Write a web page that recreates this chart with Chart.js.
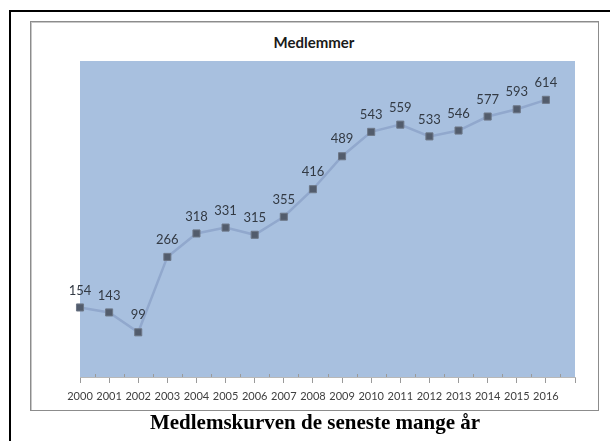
<!DOCTYPE html>
<html>
<head>
<meta charset="utf-8">
<script src="https://cdn.jsdelivr.net/npm/chart.js@4.4.0/dist/chart.umd.min.js"></script>
<style>
  html, body { margin: 0; padding: 0; background: #fff; overflow: hidden; }
  #frame { position: absolute; left: 9px; top: 10px; width: 700px; height: 500px; border: 2px solid #000; }
  #box { position: absolute; left: 30px; top: 21px; width: 567px; height: 388px;
         border: 1px solid #8c8c8c; box-shadow: inset 1px 1px 0 #c8c8c8; }
  #title { position: absolute; left: 214px; width: 200px; top: 33px; text-align: center;
           font: bold 15px Lato, sans-serif; color: #1a1a1a; }
  #caption { position: absolute; left: 65px; width: 500px; top: 410px; text-align: center;
             font: bold 21px "Liberation Serif", "Times New Roman", serif; color: #000; }
  #c { position: absolute; left: 0; top: 0; }
</style>
</head>
<body>
<div id="frame"></div>
<div id="box"></div>
<div id="title">Medlemmer</div>
<canvas id="c" width="610" height="441"></canvas>
<div id="caption">Medlemskurven de seneste mange år</div>
<script>
// data
var years = ["2000", "2001", "2002", "2003", "2004", "2005", "2006", "2007", "2008",
             "2009", "2010", "2011", "2012", "2013", "2014", "2015", "2016"];
var members = [154, 143, 99, 266, 318, 331, 315, 355, 416, 489, 543, 559, 533, 546, 577, 593, 614];

// plot background
var plotBg = {
    id: "plotBg",
    beforeDraw: function (chart) {
        var a = chart.chartArea, ctx = chart.ctx;
        ctx.save();
        ctx.fillStyle = "rgb(168, 192, 223)";
        ctx.fillRect(a.left, a.top, a.right - a.left, a.bottom - a.top);
        ctx.restore();
    }
};

// small ticks between the years
var minorTicks = {
    id: "minorTicks",
    afterDraw: function (chart) {
        var x = chart.scales.x, ctx = chart.ctx, b = chart.chartArea.bottom;
        ctx.save();
        ctx.strokeStyle = "#9a9a9a";
        ctx.lineWidth = 1;
        for (var i = 0; i < years.length; i++) {
            var px = Math.round((x.getPixelForValue(i) + x.getPixelForValue(i + 1)) / 2) + 0.5;
            ctx.beginPath();
            ctx.moveTo(px, b - 3);
            ctx.lineTo(px, b);
            ctx.stroke();
        }
        ctx.restore();
    }
};

// value labels over the points
var valueLabels = {
    id: "valueLabels",
    afterDatasetsDraw: function (chart) {
        var ctx = chart.ctx, meta = chart.getDatasetMeta(0);
        ctx.save();
        ctx.font = "13px Lato, sans-serif";
        ctx.fillStyle = "#333a44";
        ctx.textAlign = "center";
        ctx.textBaseline = "middle";
        meta.data.forEach(function (pt, i) {
            ctx.fillText(String(members[i]), pt.x, pt.y - 17);
        });
        ctx.restore();
    }
};

var ctx = document.getElementById("c").getContext("2d");
var myChart = new Chart(ctx, {
    type: "line",
    data: {
        labels: years.concat([""]),
        datasets: [{
            label: "Medlemmer",
            data: members,
            borderColor: "rgb(145, 168, 205)",
            borderWidth: 2.5,
            tension: 0,
            pointStyle: "rect",
            pointRadius: 5,
            pointBackgroundColor: "#525c6c",
            pointBorderColor: "#6d7787",
            pointBorderWidth: 1
        }]
    },
    options: {
        responsive: false,
        animation: false,
        layout: { padding: { left: 80, right: 35, top: 61, bottom: 0 } },
        plugins: {
            legend: { display: false },
            tooltip: { enabled: false }
        },
        scales: {
            x: {
                offset: false,
                grid: { display: true, drawOnChartArea: false, offset: false, tickLength: 6, color: "#9a9a9a" },
                border: { display: true, color: "#b8b8b8", width: 1 },
                ticks: {
                    autoSkip: false, maxRotation: 0, padding: 7,
                    color: "#404040",
                    font: { family: "Lato, sans-serif", size: 11 }
                },
                afterFit: function (scale) { scale.height = 64; }
            },
            y: {
                display: false,
                min: 0,
                max: 700
            }
        }
    },
    plugins: [plotBg, minorTicks, valueLabels]
});
</script>
</body>
</html>
